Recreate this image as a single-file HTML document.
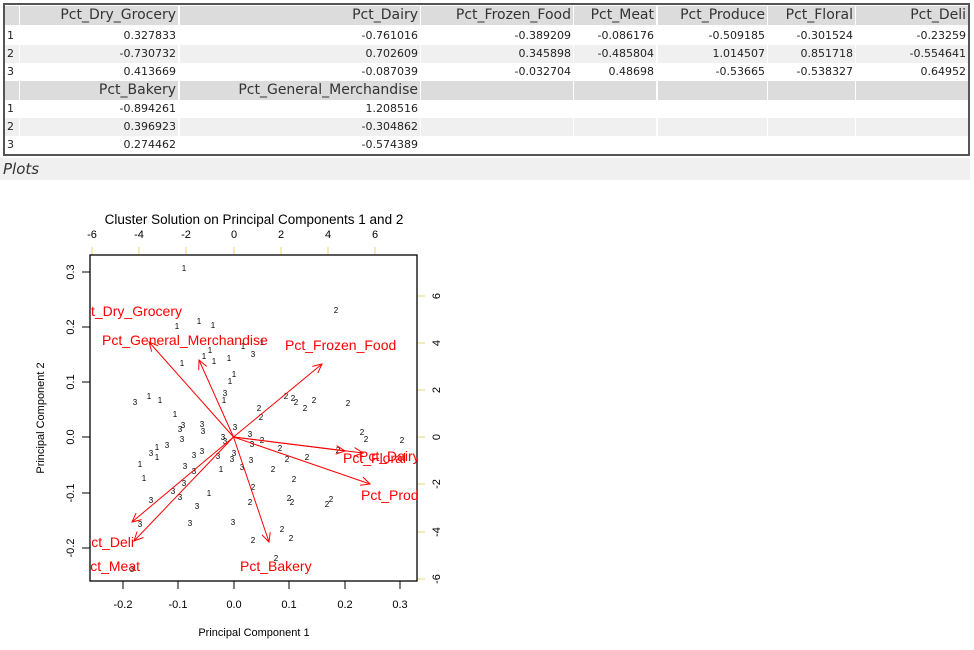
<!DOCTYPE html>
<html><head><meta charset="utf-8"><style>
body{margin:0;width:974px;height:650px;background:#fff;position:relative;overflow:hidden;font-family:"DejaVu Sans","Liberation Sans",sans-serif;}
.b{position:absolute;box-sizing:border-box}
.c{position:absolute;box-sizing:border-box;text-align:right;padding-right:2px;font-size:11px;line-height:18px;color:#222;font-family:"DejaVu Sans",sans-serif}
.h{background:#dcdcdc;font-size:14px;line-height:19px;color:#333}
.a{background:#f0f0f0}
.i{text-align:left;padding-left:2px}
</style></head><body>
<div class="b" style="left:3px;top:3px;width:967px;height:153px;border:2px solid #555;"></div>
<div id="t"></div>
<div class="b" style="left:0;top:158px;width:970px;height:22px;background:#f0f0f0;"></div>
<div class="b" style="left:3px;top:159px;font-size:15px;font-style:italic;color:#333;line-height:20px;">Plots</div>
<script>
var cols=[[5,19],[20,178],[180,420],[421,573],[574,656],[658,767],[768,855],[856,968]];
var rowsTop=[6,27,45,63,81,100,118,136];
var heights=[19,18,18,18,19,18,18,18];
var data=[
["","Pct_Dry_Grocery","Pct_Dairy","Pct_Frozen_Food","Pct_Meat","Pct_Produce","Pct_Floral","Pct_Deli"],
["1","0.327833","-0.761016","-0.389209","-0.086176","-0.509185","-0.301524","-0.23259"],
["2","-0.730732","0.702609","0.345898","-0.485804","1.014507","0.851718","-0.554641"],
["3","0.413669","-0.087039","-0.032704","0.48698","-0.53665","-0.538327","0.64952"],
["","Pct_Bakery","Pct_General_Merchandise","","","","",""],
["1","-0.894261","1.208516","","","","",""],
["2","0.396923","-0.304862","","","","",""],
["3","0.274462","-0.574389","","","","",""]];
var h="";
for(var r=0;r<8;r++){for(var c=0;c<8;c++){var cls="c"+((r==0||r==4)?" h":(r==2||r==6)?" a":"")+(c==0?" i":"");
h+='<div class="'+cls+'" style="left:'+cols[c][0]+'px;top:'+rowsTop[r]+'px;width:'+(cols[c][1]-cols[c][0])+'px;height:'+heights[r]+'px">'+data[r][c]+'</div>';}}
document.getElementById("t").innerHTML=h;
</script>
<svg class="b" style="left:0;top:0" width="974" height="650" xmlns="http://www.w3.org/2000/svg" font-family="Liberation Sans, sans-serif">
<defs><clipPath id="cp"><rect x="90" y="255" width="327" height="326"/></clipPath></defs>
<text x="254" y="224" font-size="13.5" text-anchor="middle" fill="#000">Cluster Solution on Principal Components 1 and 2</text>
<g font-size="11" text-anchor="middle" fill="#000">
<text x="92" y="238">-6</text><text x="139" y="238">-4</text><text x="186" y="238">-2</text><text x="234" y="238">0</text><text x="281" y="238">2</text><text x="328" y="238">4</text><text x="375" y="238">6</text>
</g>
<g stroke="#e8d870" stroke-width="1">
<line x1="92" y1="247" x2="92" y2="255"/><line x1="139" y1="247" x2="139" y2="255"/><line x1="186" y1="247" x2="186" y2="255"/><line x1="234" y1="247" x2="234" y2="255"/><line x1="281" y1="247" x2="281" y2="255"/><line x1="328" y1="247" x2="328" y2="255"/><line x1="375" y1="247" x2="375" y2="255"/>
<line x1="417" y1="296" x2="425" y2="296"/><line x1="417" y1="343" x2="425" y2="343"/><line x1="417" y1="390" x2="425" y2="390"/><line x1="417" y1="437" x2="425" y2="437"/><line x1="417" y1="484" x2="425" y2="484"/><line x1="417" y1="532" x2="425" y2="532"/><line x1="417" y1="579" x2="425" y2="579"/>
</g>
<g font-size="11" text-anchor="middle" fill="#000">
<text transform="translate(440,296) rotate(-90)">6</text><text transform="translate(440,343) rotate(-90)">4</text><text transform="translate(440,390) rotate(-90)">2</text><text transform="translate(440,437) rotate(-90)">0</text><text transform="translate(440,484) rotate(-90)">-2</text><text transform="translate(440,532) rotate(-90)">-4</text><text transform="translate(440,579) rotate(-90)">-6</text>
<text transform="translate(74,272) rotate(-90)">0.3</text><text transform="translate(74,327) rotate(-90)">0.2</text><text transform="translate(74,382) rotate(-90)">0.1</text><text transform="translate(74,437) rotate(-90)">0.0</text><text transform="translate(74,493) rotate(-90)">-0.1</text><text transform="translate(74,548) rotate(-90)">-0.2</text>
<text x="123" y="608">-0.2</text><text x="178" y="608">-0.1</text><text x="234" y="608">0.0</text><text x="289" y="608">0.1</text><text x="345" y="608">0.2</text><text x="400" y="608">0.3</text>
<text x="254" y="636">Principal Component 1</text>
<text transform="translate(44,418) rotate(-90)">Principal Component 2</text>
</g>
<g stroke="#000" stroke-width="1">
<line x1="82" y1="272" x2="90" y2="272"/><line x1="82" y1="327" x2="90" y2="327"/><line x1="82" y1="382" x2="90" y2="382"/><line x1="82" y1="437" x2="90" y2="437"/><line x1="82" y1="493" x2="90" y2="493"/><line x1="82" y1="548" x2="90" y2="548"/>
<line x1="123" y1="581" x2="123" y2="589"/><line x1="178" y1="581" x2="178" y2="589"/><line x1="234" y1="581" x2="234" y2="589"/><line x1="289" y1="581" x2="289" y2="589"/><line x1="345" y1="581" x2="345" y2="589"/><line x1="400" y1="581" x2="400" y2="589"/>
</g>
<rect x="90" y="255" width="327" height="326" fill="none" stroke="#000" stroke-width="1.3"/>
<g font-size="8" text-anchor="middle" fill="#000">
<text x="184" y="271">1</text><text x="177" y="329">1</text><text x="199" y="324">1</text><text x="213" y="328">1</text><text x="210" y="353">1</text><text x="204" y="359">1</text><text x="182" y="366">1</text><text x="214" y="364">1</text><text x="229" y="361">1</text><text x="234" y="377">1</text><text x="230" y="384">1</text><text x="224" y="403">1</text><text x="149" y="399">1</text><text x="160" y="403">1</text><text x="175" y="417">1</text><text x="157" y="450">1</text><text x="157" y="460">1</text><text x="140" y="467">1</text><text x="144" y="481">1</text><text x="221" y="472">1</text><text x="209" y="496">1</text><text x="243" y="349">1</text><text x="262" y="345">1</text>
<text x="253" y="357">3</text><text x="225" y="396">3</text><text x="135" y="405">3</text><text x="183" y="428">3</text><text x="180" y="432">3</text><text x="202" y="427">3</text><text x="203" y="434">3</text><text x="182" y="442">3</text><text x="235" y="430">3</text><text x="223" y="440">3</text><text x="225" y="444">3</text><text x="250" y="437">3</text><text x="252" y="447">3</text><text x="167" y="448">3</text><text x="151" y="456">3</text><text x="194" y="458">3</text><text x="202" y="454">3</text><text x="218" y="459">3</text><text x="234" y="456">3</text><text x="232" y="462">3</text><text x="251" y="463">3</text><text x="185" y="469">3</text><text x="194" y="474">3</text><text x="242" y="470">3</text><text x="184" y="486">3</text><text x="173" y="494">3</text><text x="180" y="500">3</text><text x="151" y="503">3</text><text x="197" y="509">3</text><text x="140" y="527">3</text><text x="190" y="526">3</text><text x="233" y="525">3</text><text x="132" y="572">3</text>
<text x="336" y="313">2</text><text x="286" y="399">2</text><text x="293" y="401">2</text><text x="296" y="405">2</text><text x="305" y="411">2</text><text x="314" y="403">2</text><text x="348" y="406">2</text><text x="259" y="411">2</text><text x="261" y="420">2</text><text x="262" y="443">2</text><text x="362" y="435">2</text><text x="366" y="442">2</text><text x="402" y="443">2</text><text x="280" y="451">2</text><text x="338" y="453">2</text><text x="287" y="462">2</text><text x="307" y="460">2</text><text x="273" y="472">2</text><text x="294" y="482">2</text><text x="253" y="490">2</text><text x="289" y="501">2</text><text x="292" y="505">2</text><text x="250" y="505">2</text><text x="331" y="502">2</text><text x="327" y="507">2</text><text x="282" y="532">2</text><text x="291" y="541">2</text><text x="253" y="543">2</text><text x="276" y="561">2</text>
</g>
<g clip-path="url(#cp)" stroke="#f00" stroke-width="1" fill="none">
<line x1="233.5" y1="437" x2="322" y2="364"/><polyline points="312.3,366.4 322,364 317.8,373.1"/>
<line x1="233.5" y1="437" x2="149" y2="342"/><polyline points="151.7,351.6 149,342 158.2,345.8"/>
<line x1="233.5" y1="437" x2="199" y2="360"/><polyline points="198.7,370 199,360 206.7,366.4"/>
<line x1="233.5" y1="437" x2="363" y2="453"/><polyline points="354.6,447.6 363,453 353.5,456.2"/>
<line x1="233.5" y1="437" x2="345" y2="451"/><polyline points="336.6,445.6 345,451 335.5,454.2"/>
<line x1="233.5" y1="437" x2="370" y2="484"/><polyline points="362.9,477 370,484 360.1,485.2"/>
<line x1="233.5" y1="437" x2="132" y2="522"/><polyline points="141.7,519.6 132,522 136.1,512.9"/>
<line x1="233.5" y1="437" x2="134" y2="541"/><polyline points="143.4,537.5 134,541 137.1,531.5"/>
<line x1="233.5" y1="437" x2="269" y2="542"/><polyline points="270.2,532.1 269,542 262,534.9"/>
</g>
<g clip-path="url(#cp)" fill="#f00" font-size="14">
<text x="285" y="350">Pct_Frozen_Food</text>
<text x="102" y="345">Pct_General_Merchandise</text>
<text x="182" y="316" text-anchor="end">Pct_Dry_Grocery</text>
<text x="359" y="461">Pct_Dairy</text>
<text x="343" y="463">Pct_Floral</text>
<text x="361" y="500">Pct_Produce</text>
<text x="134" y="547" text-anchor="end">Pct_Deli</text>
<text x="140" y="571" text-anchor="end">Pct_Meat</text>
<text x="240" y="571">Pct_Bakery</text>
</g>
</svg>
</body></html>
